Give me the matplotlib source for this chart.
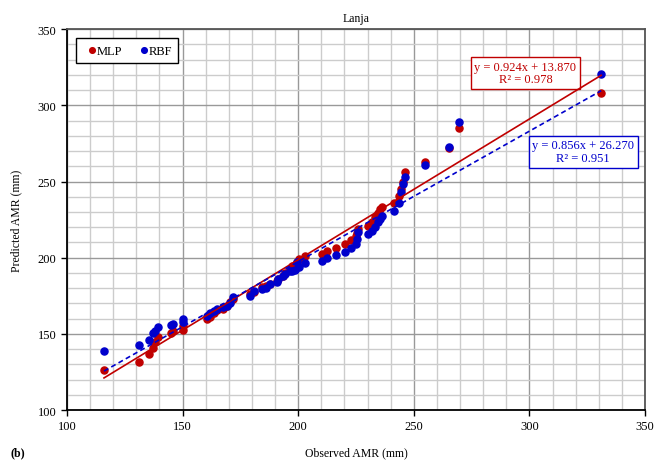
import matplotlib.pyplot as plt
import numpy as np

plt.rcParams['font.family'] = ['Liberation Serif', 'DejaVu Serif']

# observed annual maximum rainfall and model predictions (mm)
observed = [116, 131, 135.5, 137, 138, 139.5, 145, 145.7, 150.2, 150.3,
            160.4, 162, 163.5, 165, 167.6, 169, 170.5, 172, 179.2, 181,
            184.2, 186, 188, 190.7, 191.4, 193.6, 194.3, 196.5, 197.2, 198.6,
            199.3, 200.5, 203, 210.3, 212.5, 216.5, 220.3, 222.7, 224.8, 225.5,
            226, 230.3, 232, 233.4, 234.4, 235.2, 236.3, 241.6, 243.6, 244.6,
            245.5, 246.3, 255, 265.4, 269.5, 331]
mlp = [126, 131.5, 136.5, 140.5, 144.4, 148, 150.5, 151.6, 155.3, 152.6,
       159.7, 161, 164, 165.5, 166.3, 168, 170.7, 172.9, 176, 177.2,
       180.5, 181.6, 183, 184.8, 186, 188, 190, 192.5, 194.3, 194.7,
       197, 199, 200.8, 202.4, 204.5, 206.3, 208.9, 211.7, 214, 216,
       219, 220.5, 223.2, 226.4, 229, 231.9, 233, 235.8, 240.2, 245,
       249.4, 256, 262.7, 272, 285.3, 307.8]
rbf = [139, 142.5, 146, 150.5, 152, 154.5, 156, 156.5, 159.7, 158,
       162, 164, 165, 166.5, 167.5, 168.4, 170, 174, 175, 178.3,
       179.4, 180, 182.7, 184, 186, 188, 189.2, 191, 191.4, 192,
       196.9, 194, 196.3, 197.6, 199.7, 201.5, 203.5, 206.3, 209, 212,
       216.6, 215.5, 217.6, 220.3, 223.2, 225.3, 227.1, 230.8, 236.2, 242.8,
       248.3, 252.7, 260.8, 272.4, 289.2, 320.7]

mlp_fit = (0.924, 13.870, 0.978)
rbf_fit = (0.856, 26.270, 0.951)

red = '#C00000'
blue = '#0000CC'

fig = plt.figure(figsize=(6.72, 4.64), dpi=100)
ax = fig.add_axes([0.0997, 0.1142, 0.8603, 0.8208])

ax.set_xlim(100, 350)
ax.set_ylim(100, 350)
ax.set_xticks(np.arange(100, 351, 50))
ax.set_yticks(np.arange(100, 351, 50))
ax.set_xticks(np.arange(100, 351, 10), minor=True)
ax.set_yticks(np.arange(100, 351, 10), minor=True)
ax.grid(which='minor', color='#cccccc', linewidth=1.0)
ax.grid(which='major', color='#999999', linewidth=1.0)
ax.set_axisbelow(True)
ax.tick_params(which='minor', length=0)
ax.tick_params(which='major', direction='out', length=4, width=1, labelsize=9)
for s in ax.spines.values():
    s.set_linewidth(1.3)
    s.set_color('black')
ax.spines['right'].set_color('#555555')
ax.spines['top'].set_color('#555555')

ax.scatter(observed, mlp, s=26, color=red, zorder=3, label='MLP')
ax.scatter(observed, rbf, s=26, color=blue, zorder=3, label='RBF')

xs = np.array([min(observed), max(observed)])
ax.plot(xs, mlp_fit[0] * xs + mlp_fit[1], color=red, lw=1.2, zorder=4)
ax.plot(xs, rbf_fit[0] * xs + rbf_fit[1], color=blue, lw=1.2, ls=(0, (3, 2)), zorder=4)

ax.text(0.793, 0.885, 'y = %.3fx + %.3f\nR² = %.3f' % mlp_fit, transform=ax.transAxes,
        ha='center', va='center', color=red, fontsize=9, linespacing=1.1,
        bbox=dict(boxstyle='square,pad=0.3', fc='white', ec=red, lw=1))
ax.text(0.893, 0.678, 'y = %.3fx + %.3f\nR² = %.3f' % rbf_fit, transform=ax.transAxes,
        ha='center', va='center', color=blue, fontsize=9, linespacing=1.1,
        bbox=dict(boxstyle='square,pad=0.3', fc='white', ec=blue, lw=1))

leg = ax.legend(loc='upper left', ncol=2, fontsize=9, frameon=True, fancybox=False,
                edgecolor='black', framealpha=1, handletextpad=-0.4, columnspacing=0.9,
                handlelength=1.6, markerscale=0.8, borderpad=0.5,
                bbox_to_anchor=(0.004, 0.992))
leg.get_frame().set_linewidth(1.0)

ax.set_title('Lanja', fontsize=8.5, pad=6)
ax.set_xlabel('Observed AMR (mm)', fontsize=8.5, labelpad=10)
ax.set_ylabel('Predicted AMR (mm)', fontsize=8.5, labelpad=11)
fig.text(0.015, 0.017, '(b)', fontsize=8.5, fontweight='bold')

fig.savefig('out.png', dpi=100)
